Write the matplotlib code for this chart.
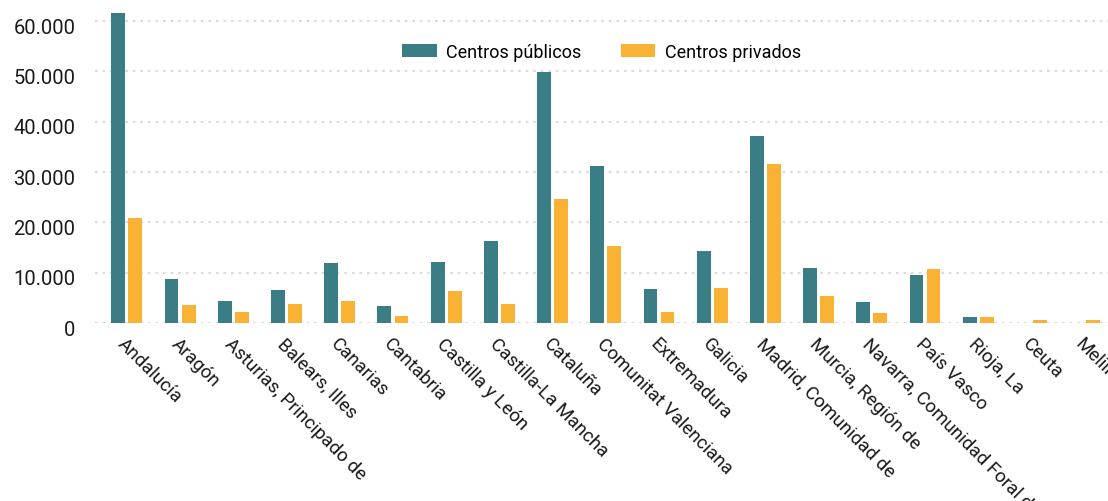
import numpy as np
import matplotlib.pyplot as plt
from matplotlib.ticker import FuncFormatter
from matplotlib.transforms import ScaledTranslation

# Datos: centros por comunidad autónoma
comunidades = ['Andalucía', 'Aragón', 'Asturias, Principado de', 'Balears, Illes',
               'Canarias', 'Cantabria', 'Castilla y León', 'Castilla-La Mancha',
               'Cataluña', 'Comunitat Valenciana', 'Extremadura', 'Galicia',
               'Madrid, Comunidad de', 'Murcia, Región de', 'Navarra, Comunidad Foral de',
               'País Vasco', 'Rioja, La', 'Ceuta', 'Melilla']
publicos = [61500, 8700, 4400, 6500, 11900, 3400, 12100, 16300, 49900, 31100,
            6700, 14400, 37200, 10900, 4100, 9600, 1200, 0, 0]
privados = [20900, 3600, 2100, 3800, 4400, 1300, 6300, 3800, 24600, 15300,
            2100, 6900, 31500, 5400, 2000, 10700, 1200, 600, 600]
yticks = [0, 10000, 20000, 30000, 40000, 50000, 60000]

plt.rcParams['font.family'] = ['Roboto', 'DejaVu Sans']

fig = plt.figure(figsize=(11.08, 5.02), dpi=100)
ax = fig.add_axes([0.0857, 0.3546, 0.9143, 0.6454])

x = np.arange(len(comunidades))
ancho = 0.26
ax.bar(x - 0.16, publicos, ancho, color='#3a7d84', label='Centros públicos', zorder=3)
ax.bar(x + 0.16, privados, ancho, color='#f9b234', label='Centros privados', zorder=3)

ax.set_xlim(-0.6, 18.44)
ax.set_ylim(0, 64370)
ax.set_yticks(yticks)
ax.yaxis.set_major_formatter(FuncFormatter(lambda v, p: f'{int(v):,}'.replace(',', '.')))
ax.tick_params(axis='y', length=0, pad=14, labelsize=14.5, labelcolor='#1a1a1a')
ax.grid(axis='y', color='#dcdcdc', linestyle=(0, (1.2, 2.2)), linewidth=1.6, zorder=0)
# etiquetas del eje y un poco por debajo de la línea
desplaza = ScaledTranslation(0, -3 / 72, fig.dpi_scale_trans)
for lbl in ax.get_yticklabels():
    lbl.set_transform(lbl.get_transform() + desplaza)

ax.set_xticks(x)
ax.set_xticklabels(comunidades, rotation=-45, ha='left', va='top',
                   rotation_mode='anchor', fontsize=13.5, color='#1a1a1a')
ax.tick_params(axis='x', length=0, pad=8)

for s in ax.spines.values():
    s.set_visible(False)

ax.legend(loc='upper center', bbox_to_anchor=(0.5, 0.915), ncol=2, frameon=False,
          fontsize=13, handlelength=1.9, handleheight=0.67, columnspacing=2.2,
          handletextpad=0.52)

plt.savefig('out.png', dpi=100)
